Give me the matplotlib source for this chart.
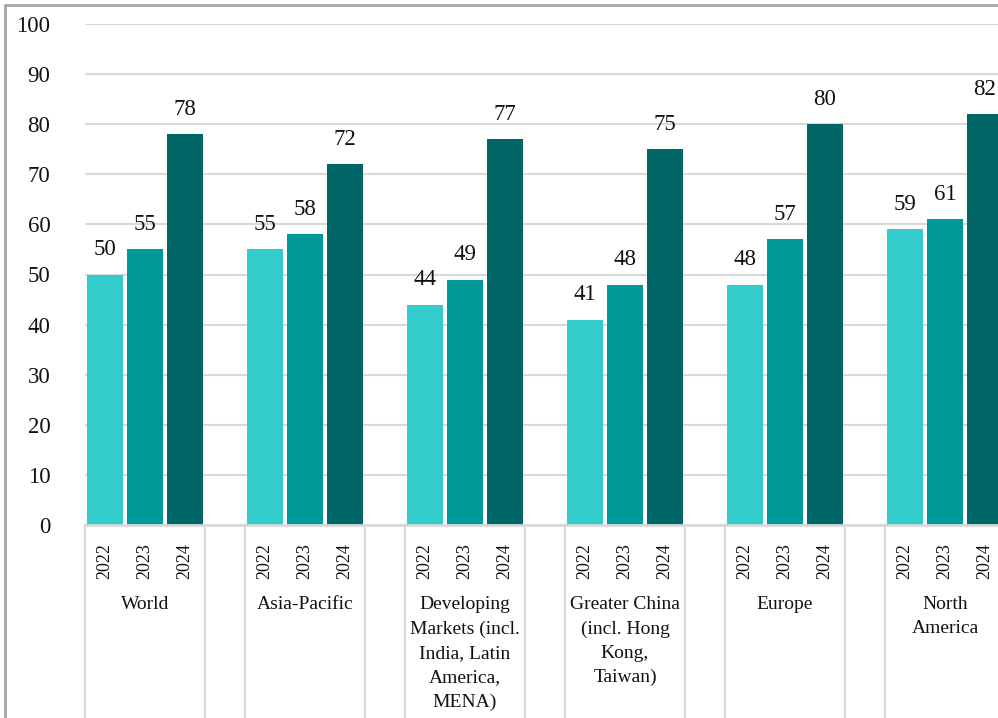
import numpy as np
import matplotlib
matplotlib.use("Agg")
import matplotlib.pyplot as plt
from matplotlib.patches import Rectangle
from matplotlib.transforms import blended_transform_factory

# Chart data
regions = ["World", "Asia-Pacific", "Developing\nMarkets (incl.\nIndia, Latin\nAmerica,\nMENA)",
           "Greater China\n(incl. Hong\nKong,\nTaiwan)", "Europe", "North\nAmerica"]
years = ["2022", "2023", "2024"]
values_2022 = [50, 55, 44, 41, 48, 59]
values_2023 = [55, 58, 49, 48, 57, 61]
values_2024 = [78, 72, 77, 75, 80, 82]

colors = ["#33CCCC", "#009999", "#006666"]
SERIF = ["Liberation Serif", "DejaVu Serif"]
GREY = "#d9d9d9"

fig = plt.figure(figsize=(9.98, 7.18), dpi=100)
ax = fig.add_axes([85 / 998, 1 - 525 / 718, 913 / 998, 501 / 718])

# each region takes 3 slots plus one empty slot (like the Excel sheet)
slot = 4
series = [values_2022, values_2023, values_2024]
for k, vals in enumerate(series):
    xs = np.arange(len(regions)) * slot + k
    ax.bar(xs, vals, width=0.92, color=colors[k], zorder=3)
    for x, v in zip(xs, vals):
        ax.annotate(str(v), (x, v), xytext=(0, 14), textcoords="offset points",
                    ha="center", va="baseline", fontsize=16.5, family=SERIF, color="#111111")

ax.set_xlim(-0.5, 22.325)
ax.set_ylim(0, 100)
ax.set_yticks(range(0, 101, 10))
ax.grid(axis="y", color=GREY, lw=1.5, zorder=0)
for s in ax.spines.values():
    s.set_visible(False)
ax.axhline(0, color=GREY, lw=2, zorder=4, clip_on=False)
ax.tick_params(axis="y", length=0, pad=25, labelsize=16.5)
for lbl in ax.get_yticklabels():
    lbl.set_family(SERIF)
    lbl.set_color("#111111")

# year labels under each bar
xpos = [g * slot + k for g in range(len(regions)) for k in range(3)]
ax.set_xticks(xpos, labels=years * len(regions), rotation=90)
ax.tick_params(axis="x", length=0, pad=13, labelsize=13)
for lbl in ax.get_xticklabels():
    lbl.set_family(SERIF)
    lbl.set_va("top")
    lbl.set_color("#111111")

# category separators and region labels
trans = blended_transform_factory(ax.transData, ax.transAxes)
for g in range(len(regions)):
    left = g * slot - 0.5
    for xb in (left, left + 3, left + 4):
        ax.plot([xb, xb], [0, -0.4], color=GREY, lw=1.5, transform=trans, clip_on=False)
    ax.text(g * slot + 1, -0.142, regions[g], transform=trans, ha="center", va="top",
            fontsize=14, family=SERIF, linespacing=1.55, color="#111111")

# outer chart border
fig.patches.append(Rectangle((5 / 998, -0.1), 1.2, 1 - 5 / 718 + 0.1, transform=fig.transFigure,
                             fill=False, edgecolor="#a6a6a6", lw=2))

fig.savefig("out.png", dpi=100)
